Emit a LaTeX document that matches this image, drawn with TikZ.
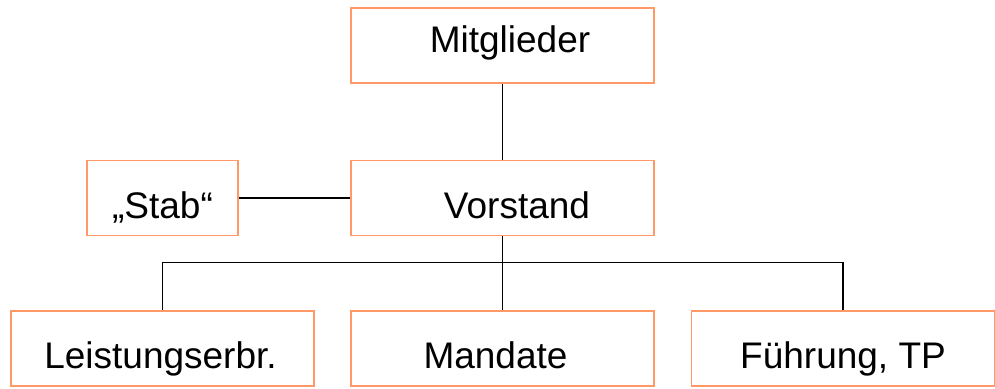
\documentclass[tikz,border=0pt]{standalone}
\usepackage{fontspec}
\setmainfont{Liberation Sans}
\usetikzlibrary{positioning}
\definecolor{boxorange}{RGB}{255,153,102}

\begin{document}
\begin{tikzpicture}[node distance=2cm,on grid,font=\fontsize{37}{42}\selectfont]
  \tikzstyle{unit}=[rectangle,draw=boxorange,line width=1.6pt,
                    minimum width=303pt,minimum height=75pt,inner sep=0pt,
                    text height=40pt,text depth=0pt]
  \tikzstyle{staff}=[unit,minimum width=151pt,text height=41pt]
  \tikzstyle{link}=[draw=black,line width=1.4pt]

  \useasboundingbox (0,0) rectangle (995pt,-388pt);

  \node[unit,text height=13pt] (mitglieder) at (502.5pt,-45.5pt) {\hspace*{15pt}Mitglieder};
  \node[unit,text height=41pt] (vorstand) [below=152.5pt of mitglieder] {\hspace*{29pt}Vorstand};
  \node[staff] (stab) [left=340pt of vorstand] {„Stab“};
  \node[unit] (mandate) [below=150.5pt of vorstand] {Mandate\hspace*{14pt}};
  \node[unit] (leistung) [left=340pt of mandate] {Leistungserbr.\hspace*{4pt}};
  \node[unit] (fuehrung) [right=340.5pt of mandate] {Führung, TP};
  \node[coordinate] (bus) [below=26pt of vorstand.south] {};

  \path[link] (mitglieder) -- (vorstand);
  \path[link] (stab) -- (vorstand);
  \path[link] (vorstand) -- (bus);
  \path[link] (bus) -| (leistung);
  \path[link] (bus) -- (mandate);
  \path[link] (bus) -| (fuehrung);
\end{tikzpicture}
\end{document}
